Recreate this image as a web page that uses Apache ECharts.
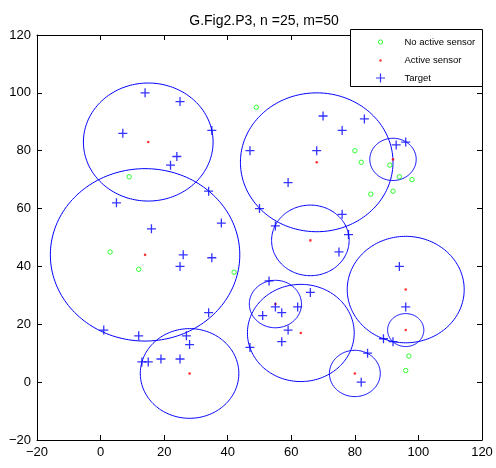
<!DOCTYPE html>
<html>
<head>
<meta charset="utf-8">
<script src="https://cdn.jsdelivr.net/npm/echarts@6/dist/echarts.min.js"></script>
<style>
html,body{margin:0;padding:0;background:#fff;}
#chart{width:496px;height:468px;}
</style>
</head>
<body>
<div id="chart"></div>
<script>
// ---- data ----
const titleText = 'G.Fig2.P3, n =25, m=50';
const tickValues = [-20, 0, 20, 40, 60, 80, 100, 120];

const inactiveX = [49, 9, 80, 82, 91, 94, 98, 85, 92, 3, 12, 42, 97, 96];
const inactiveY = [95, 71, 80, 76, 75, 71, 70, 65, 66, 45, 39, 38, 9, 4];

const activeX = [15, 14, 28, 68, 92, 66, 55, 63, 80, 96, 96];
const activeY = [83, 44, 3, 76, 77, 49, 27, 17, 3, 32, 18];
const activeRadius = [20.4, 29.8, 15.5, 24, 7.3, 12.2, 8.2, 16.8, 8, 18.4, 5.7];

const targetX = [14, 25, 7, 35, 24, 22, 34, 5, 16, 38, 47, 50, 26, 35, 25, 34, 1, 12, 27, 28,
                 13, 15, 19, 25, 51, 47, 53, 70, 83, 76, 68, 93, 96, 59, 76, 55, 78, 75, 94, 96,
                 89, 92, 84, 82, 66, 55, 57, 62, 59, 57];
const targetY = [100, 97, 86, 87, 78, 75, 66, 62, 53, 55, 80, 60, 44, 43, 40, 24, 18, 16, 16, 13,
                 7, 7, 8, 8, 23, 12, 35, 92, 91, 87, 80, 82, 83, 69, 58, 54, 51, 45, 40, 26,
                 15, 14, 10, 0, 31, 26, 24, 26, 18, 14];

const legendNames = ['No active sensor', 'Active sensor', 'Target'];

// ---- build ----
const FONT = "'Liberation Sans', Arial, Helvetica, sans-serif";
const zip = (xs, ys) => xs.map((x, i) => [x, ys[i]]);
const fmt = v => (v < 0 ? '\u2212' + Math.abs(v) : String(v));
const axisMin = tickValues[0], axisMax = tickValues[tickValues.length - 1];
const axisStep = tickValues[1] - tickValues[0];

function makeAxis(pos, showLabel) {
  return {
    type: 'value', position: pos, min: axisMin, max: axisMax, interval: axisStep,
    axisLine: { show: true, onZero: false, lineStyle: { color: '#000', width: 1 } },
    axisTick: { show: true, inside: true, length: 5, lineStyle: { color: '#000', width: 1 } },
    axisLabel: { show: showLabel, color: '#000', fontSize: 13, fontFamily: FONT, margin: 6, formatter: fmt },
    splitLine: { show: false }
  };
}

const chart = echarts.init(document.getElementById('chart'), null, { renderer: 'canvas' });
chart.setOption({
  animation: false,
  backgroundColor: '#fff',
  title: {
    text: titleText, left: 259, top: 9, textAlign: 'center',
    textStyle: { fontSize: 14, fontWeight: 'normal', color: '#000', fontFamily: FONT }
  },
  grid: { left: 37, top: 35, right: 14, bottom: 28, containLabel: false },
  xAxis: [makeAxis('bottom', true), makeAxis('top', false)],
  yAxis: [makeAxis('left', true), makeAxis('right', false)],
  graphic: [{
    type: 'rect', z: 50,
    shape: { x: 350.5, y: 29.5, width: 132, height: 57 },
    style: { fill: '#fff', stroke: '#000', lineWidth: 1 }
  }],
  legend: {
    z: 100, orient: 'vertical', left: 373.5, top: 35, padding: 0,
    itemWidth: 9, itemHeight: 9, itemGap: 5.5,
    textStyle: { fontSize: 9.5, lineHeight: 12, color: '#000', fontFamily: FONT, padding: [0, 0, 0, 14.5] },
    data: [
      { name: legendNames[0], icon: 'path://M0,0M9,9M6.6,4.5A2.1,2.1,0,1,1,2.4,4.5A2.1,2.1,0,1,1,6.6,4.5Z',
        itemStyle: { color: 'none', borderColor: '#00ff00', borderWidth: 1 } },
      { name: legendNames[1], icon: 'path://M0,0M9,9M5.7,4.5A1.2,1.2,0,1,1,3.3,4.5A1.2,1.2,0,1,1,5.7,4.5Z',
        itemStyle: { color: '#ff0000', borderWidth: 0 } },
      { name: legendNames[2], icon: 'path://M0,4.5L9,4.5M4.5,0L4.5,9',
        itemStyle: { color: '#0000ff', borderColor: '#0000ff', borderWidth: 1.2 } }
    ]
  },
  series: [
    {
      name: 'circles', type: 'custom', xAxisIndex: 0, yAxisIndex: 0, z: 3,
      encode: { x: 0, y: 1 },
      data: activeX.map((x, i) => [x, activeY[i], activeRadius[i]]),
      renderItem: function (params, api) {
        const cx = api.value(0), cy = api.value(1), r = api.value(2);
        const pts = [];
        const N = 180;
        for (let k = 0; k <= N; k++) {
          const a = k / N * Math.PI * 2;
          pts.push(api.coord([cx + r * Math.cos(a), cy + r * Math.sin(a)]));
        }
        return { type: 'polyline', shape: { points: pts }, style: { stroke: '#0000ff', lineWidth: 1, fill: null } };
      }
    },
    {
      name: legendNames[0], type: 'scatter', xAxisIndex: 0, yAxisIndex: 0, z: 4,
      symbol: 'circle', symbolSize: 4.4,
      itemStyle: { color: 'none', borderColor: '#00ff00', borderWidth: 1 },
      data: zip(inactiveX, inactiveY)
    },
    {
      name: legendNames[1], type: 'scatter', xAxisIndex: 0, yAxisIndex: 0, z: 4,
      symbol: 'circle', symbolSize: 2.6,
      itemStyle: { color: '#ff0000' },
      data: zip(activeX, activeY)
    },
    {
      name: legendNames[2], type: 'scatter', xAxisIndex: 0, yAxisIndex: 0, z: 4,
      symbol: 'path://M0,5L10,5M5,0L5,10', symbolSize: 9,
      itemStyle: { color: '#0000ff', borderColor: '#0000ff', borderWidth: 1.3 },
      data: zip(targetX, targetY)
    }
  ]
});
</script>
</body>
</html>
